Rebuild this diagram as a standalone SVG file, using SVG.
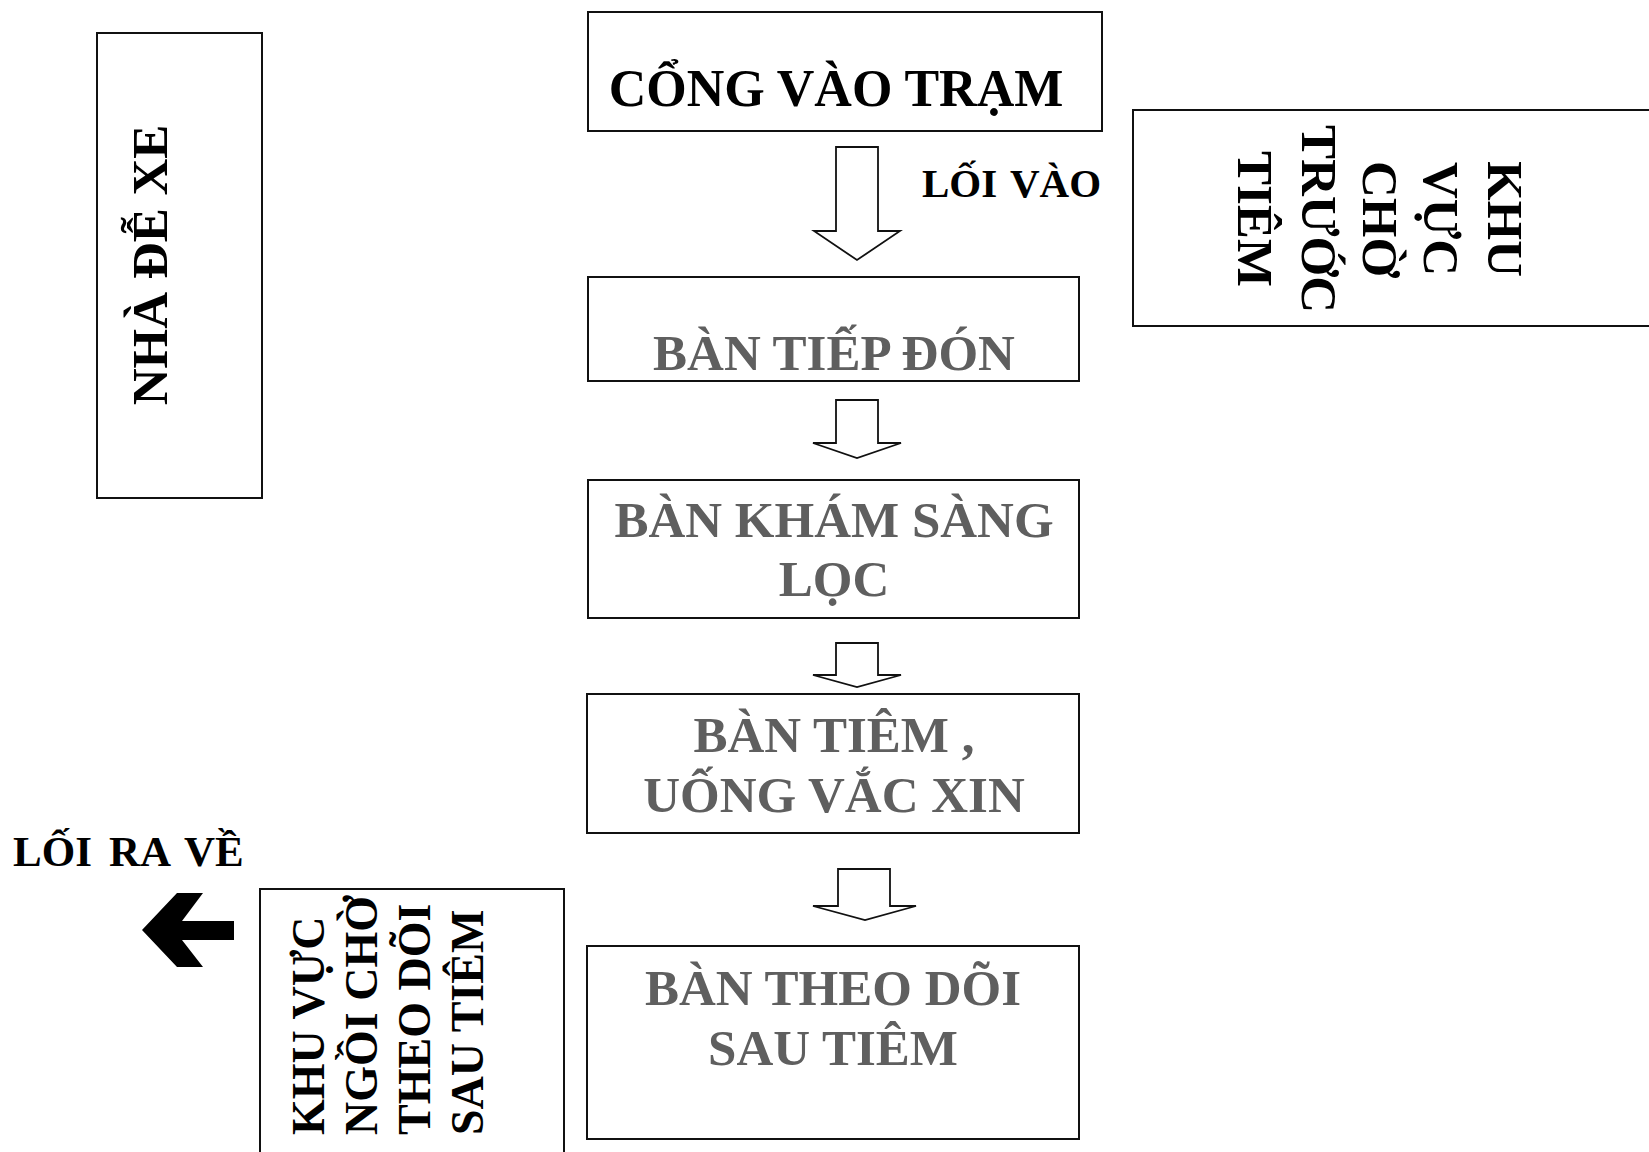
<svg xmlns="http://www.w3.org/2000/svg" width="1649" height="1152" viewBox="0 0 1649 1152">
  <style>
    .box { fill: #ffffff; stroke: #111111; stroke-width: 2; }
    .t { font-family: "Liberation Serif", "Times New Roman", serif; font-weight: bold; }
    .big { font-size: 51px; }
    .mid { font-size: 46px; }
    .lbl { font-size: 41px; }
    .dark { fill: #000000; }
    .gray { fill: #5f5f5f; }
    .blk { fill: #ffffff; stroke: #111111; stroke-width: 1.8; stroke-linejoin: miter; }
    .solid { fill: #000000; stroke: none; }
  </style>
  <rect x="0" y="0" width="1649" height="1152" fill="#ffffff"/>

  <g id="nha-de-xe">
    <rect class="box" x="97" y="33" width="165" height="465"/>
    <text class="t big dark" text-anchor="middle" transform="translate(167,265) rotate(-90)" x="0" y="0">NHÀ ĐỄ XE</text>
  </g>

  <g id="cong-vao-tram">
    <rect class="box" x="588" y="12" width="514" height="119"/>
    <text class="t dark" style="font-size:52px" text-anchor="middle" x="836" y="106">CỔNG VÀO TRẠM</text>
  </g>

  <g id="khu-vuc-cho-truoc-tiem">
    <rect class="box" x="1133" y="110" width="540" height="216"/>
    <text class="t big dark" text-anchor="middle" transform="translate(1488,219) rotate(90)">KHU</text>
    <text class="t big dark" text-anchor="middle" transform="translate(1424,219) rotate(90)">VỰC</text>
    <text class="t big dark" text-anchor="middle" transform="translate(1363,219) rotate(90)">CHỜ</text>
    <text class="t big dark" text-anchor="middle" transform="translate(1302,219) rotate(90)">TRƯỚC</text>
    <text class="t big dark" text-anchor="middle" transform="translate(1238,219) rotate(90)">TIÊM</text>
  </g>

  <g id="ban-tiep-don">
    <rect class="box" x="588" y="277" width="491" height="104"/>
    <text class="t big gray" text-anchor="middle" x="834" y="370">BÀN TIẾP ĐÓN</text>
  </g>

  <g id="ban-kham-sang-loc">
    <rect class="box" x="588" y="480" width="491" height="138"/>
    <text class="t big gray" text-anchor="middle" x="834" y="537">BÀN KHÁM SÀNG</text>
    <text class="t big gray" text-anchor="middle" x="834" y="596">LỌC</text>
  </g>

  <g id="ban-tiem">
    <rect class="box" x="587" y="694" width="492" height="139"/>
    <text class="t big gray" text-anchor="middle" x="834" y="752">BÀN TIÊM ,</text>
    <text class="t big gray" text-anchor="middle" x="834" y="812">UỐNG VẮC XIN</text>
  </g>

  <g id="ban-theo-doi-sau-tiem">
    <rect class="box" x="587" y="946" width="492" height="193"/>
    <text class="t big gray" text-anchor="middle" x="833" y="1005">BÀN THEO DÕI</text>
    <text class="t big gray" text-anchor="middle" x="833" y="1065">SAU TIÊM</text>
  </g>

  <g id="khu-vuc-ngoi-cho">
    <rect class="box" x="260" y="889" width="304" height="290"/>
    <text class="t mid dark" text-anchor="start" transform="translate(324,1135) rotate(-90)">KHU VỰC</text>
    <text class="t mid dark" text-anchor="start" transform="translate(377,1135) rotate(-90)">NGỒI CHỜ</text>
    <text class="t mid dark" text-anchor="start" transform="translate(430,1135) rotate(-90)">THEO DÕI</text>
    <text class="t mid dark" text-anchor="start" transform="translate(483,1135) rotate(-90)">SAU TIÊM</text>
  </g>

  <g id="connectors">
    <polygon class="blk" points="836,147 878,147 878,231 900,231 857,260 814,231 836,231"/>
    <polygon class="blk" points="836,400 878,400 878,443 901,443 857,458 813,443 836,443"/>
    <polygon class="blk" points="836,643 878,643 878,675 901,675 857,687 813,675 836,675"/>
    <polygon class="blk" points="838,869 890,869 890,906 916,906 865,920 813,906 838,906"/>
    <polygon class="solid" points="142,930 177,893 203,893 182,921 234,921 234,940 182,940 203,967 177,967"/>
    <text class="t lbl dark" y="197"><tspan x="922">LỐI</tspan><tspan x="1010">VÀO</tspan></text>
    <text class="t dark" style="font-size:43px" y="866"><tspan x="13">LỐI</tspan><tspan x="109">RA</tspan><tspan x="184">VỀ</tspan></text>
  </g>
</svg>
